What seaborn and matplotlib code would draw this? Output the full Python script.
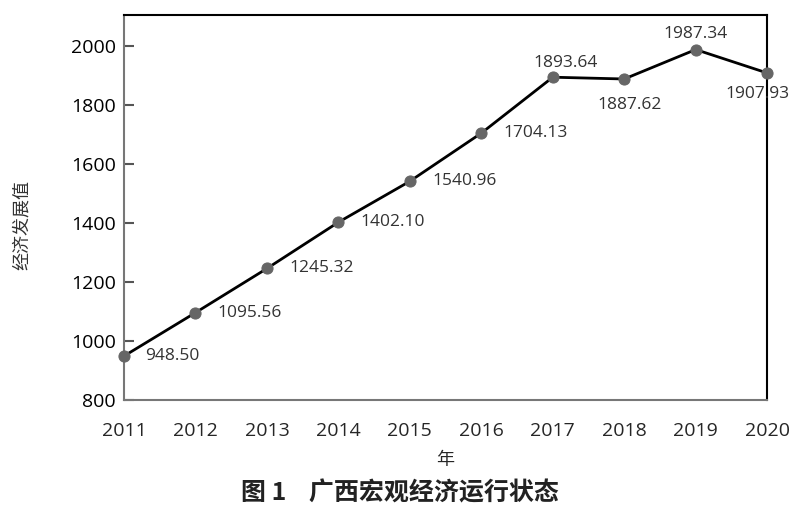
import matplotlib.pyplot as plt
import seaborn as sns
import pandas as pd

years = [2011, 2012, 2013, 2014, 2015, 2016, 2017, 2018, 2019, 2020]
values = [948.50, 1095.56, 1245.32, 1402.10, 1540.96, 1704.13, 1893.64, 1887.62, 1987.34, 1907.93]
# label offsets in points (dx, dy) and alignment for each data label
offsets = [(15, 0), (16, 0), (16, 0), (16, 0), (16, 0), (16, 0), (9, 10), (4, -19), (0, 11), (-7, -15)]
aligns = ['left'] * 6 + ['center'] * 4

df = pd.DataFrame({'年': years, '经济发展值': values})

sns.set_theme(style="ticks")
plt.rcParams['font.family'] = ['Noto Sans CJK SC', 'DejaVu Sans']
plt.rcParams['ytick.direction'] = 'in'
plt.rcParams['ytick.left'] = True
plt.rcParams['ytick.major.size'] = 7
plt.rcParams['ytick.major.width'] = 1.5
plt.rcParams['ytick.color'] = '#555555'
plt.rcParams['ytick.labelcolor'] = 'black'

fig = plt.figure(figsize=(8, 5.12), dpi=100)
ax = fig.add_axes([0.155, 0.219, 0.804, 0.752])

sns.lineplot(data=df, x='年', y='经济发展值', ax=ax, color='black', linewidth=2,
             marker='o', markersize=8, markerfacecolor='#666666', markeredgecolor='#666666',
             clip_on=False, zorder=3)

for x, y, (dx, dy), ha, v in zip(years, values, offsets, aligns, values):
    ax.annotate(f"{v:.2f}", (x, y), xytext=(dx, dy), textcoords='offset points',
                ha=ha, va='center', fontsize=12.5, color='#333333', family=['Open Sans', 'DejaVu Sans'])

ax.set_xlim(2011, 2020)
ax.set_ylim(800, 2105)
ax.set_xticks(years)
ax.set_yticks(range(800, 2001, 200))
ax.tick_params(axis='y', labelsize=14, pad=6)
ax.tick_params(axis='x', bottom=False, length=0, labelsize=14, pad=16)
for lab in ax.get_xticklabels() + ax.get_yticklabels():
    lab.set_family(['Open Sans', 'DejaVu Sans'])

for s in ['left', 'bottom']:
    ax.spines[s].set_color('#777777')
    ax.spines[s].set_linewidth(1.5)
for s in ['top', 'right']:
    ax.spines[s].set_visible(True)
    ax.spines[s].set_color('black')
    ax.spines[s].set_linewidth(1.5)

ax.set_xlabel('年', fontsize=13, labelpad=8)
ax.set_ylabel('经济发展值', fontsize=13, color='#333333')
ax.yaxis.set_label_coords(-0.145, 0.455)

fig.text(0.5, 0.037, '图 1    广西宏观经济运行状态', ha='center', va='center',
         fontsize=18, fontweight='bold', color='#222222')

fig.savefig('out.png', dpi=100)
